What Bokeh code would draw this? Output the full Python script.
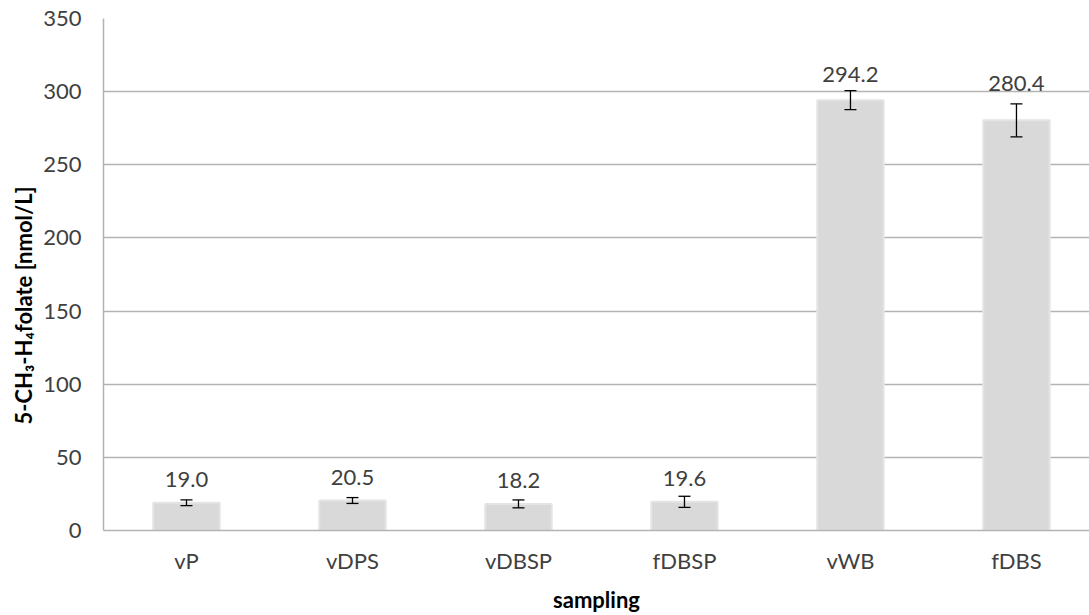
from bokeh.plotting import figure
from bokeh.models import (ColumnDataSource, Range1d, FixedTicker, Whisker,
                          TeeHead, LabelSet, Title)
from bokeh.core.properties import value
from bokeh.embed import file_html
from bokeh.resources import INLINE

# data
categories = ["vP", "vDPS", "vDBSP", "fDBSP", "vWB", "fDBS"]
means = [19.0, 20.5, 18.2, 19.6, 294.2, 280.4]
errors = [2.0, 2.0, 2.7, 3.8, 6.5, 11.3]
label_lift = [16, 16, 16, 16, 18, 29]  # px above bar top for value labels
y_ticks = [0, 50, 100, 150, 200, 250, 300, 350]

FONT = "Lato"
TXT = "#404040"

xpos = [i + 0.5 for i in range(len(categories))]
src = ColumnDataSource(dict(
    x=xpos,
    mean=means,
    upper=[m + e for m, e in zip(means, errors)],
    lower=[m - e for m, e in zip(means, errors)],
    label=[f"{m:.1f}" for m in means],
    lift=label_lift,
))

# the plotting area runs past the right edge of the page, so the last
# category slot is slightly cut off
p = figure(x_range=Range1d(0, 5.94), y_range=Range1d(0, 350),
           width=1089, height=615, output_backend="svg",
           toolbar_location=None, min_border_left=103, min_border_right=0,
           min_border_top=18, min_border_bottom=85)
p.outline_line_color = None
p.background_fill_color = "white"
p.border_fill_color = "white"

p.vbar(x="x", top="mean", width=0.4, source=src,
       fill_color="#d9d9d9", line_color="#e4e4e4", line_width=2)

head = dict(size=12, line_color="black", line_width=1.3)
p.add_layout(Whisker(base="x", upper="upper", lower="lower", source=src,
                     line_color="black", line_width=1.3, level="overlay",
                     upper_head=TeeHead(**head), lower_head=TeeHead(**head)))

p.add_layout(LabelSet(x="x", y="mean", text="label", y_offset="lift",
                      source=src, text_align="center", text_baseline="bottom",
                      text_font=value(FONT), text_font_size="22px",
                      text_color=TXT))

# axes
p.xaxis.ticker = FixedTicker(ticks=xpos)
p.xaxis.major_label_overrides = {x: c for x, c in zip(xpos, categories)}
p.yaxis.ticker = FixedTicker(ticks=y_ticks)
p.ygrid.ticker = FixedTicker(ticks=y_ticks)
p.ygrid.grid_line_color = "#b3b3b3"
p.ygrid.grid_line_width = 1.3
p.xgrid.grid_line_color = None

for ax in (p.xaxis[0], p.yaxis[0]):
    ax.axis_line_color = "#b3b3b3"
    ax.axis_line_width = 1.5
    ax.major_tick_line_color = None
    ax.minor_tick_line_color = None
    ax.major_tick_out = 0
    ax.major_tick_in = 0
    ax.minor_tick_out = 0
    ax.major_label_text_font = FONT
    ax.major_label_text_font_size = "22px"
    ax.major_label_text_color = TXT

p.yaxis.major_label_standoff = 22
p.xaxis.major_label_standoff = 16
p.xaxis.axis_label = "sampling"
p.xaxis.axis_label_text_font = FONT
p.xaxis.axis_label_text_font_style = "bold"
p.xaxis.axis_label_text_color = "black"
p.xaxis.axis_label_text_font_size = "22px"
p.xaxis.axis_label_standoff = 9

# vertical axis title, anchored from the bottom of the plotting area
p.add_layout(Title(text="5-CH\u2083-H\u2084folate [nmol/L]", align="left",
                   offset=106, standoff=8,
                   text_font=FONT, text_font_style="bold",
                   text_font_size="22px", text_color="black"), "left")

open("out.html", "w").write(file_html(p, INLINE))
